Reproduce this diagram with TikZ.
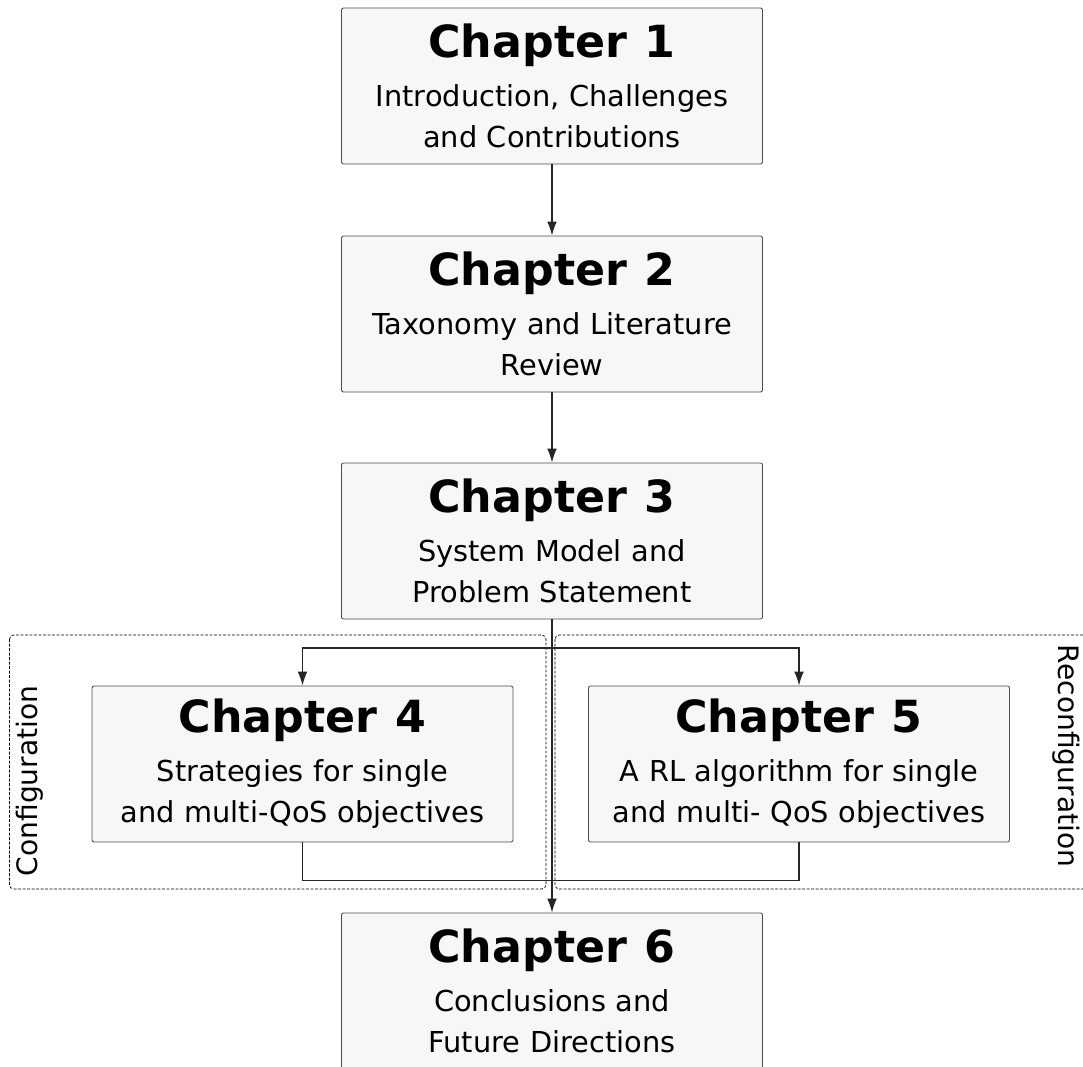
\documentclass[tikz,border=0pt]{standalone}
\usepackage{fontspec}
\setmainfont{DejaVu Sans}
\usetikzlibrary{arrows.meta}

\tikzset{
  chapter/.style={draw=black!70, line width=0.6pt, fill=black!3, rounded corners=1.5pt,
    minimum width=10.525cm, minimum height=3.9cm, inner sep=0pt, text width=10.4cm,
    align=center, font=\fontsize{20.5}{29.5}\selectfont},
  group/.style={draw=black, dash pattern=on 2pt off 1.2pt, line width=0.5pt, rounded corners=3pt},
  grouplabel/.style={font=\fontsize{20}{23}\selectfont, inner sep=0pt},
  link/.style={draw=black!85, line width=1pt},
  arrow/.style={link, -{Latex[length=10pt,width=7pt]}}
}
\newcommand{\chaptitle}[1]{{\fontsize{31.5}{31.5}\selectfont\bfseries Chapter\hspace{0.4em}#1}\\[5pt]}

\begin{document}
\begin{tikzpicture}[x=0.025cm, y=-0.025cm]
\useasboundingbox (0,0) rectangle (1083,1066);

% Draw the two groups
\draw[group] (9.5,635) rectangle (546,889);
\draw[group] (555,635) rectangle (1092,889);
\node[grouplabel, rotate=90] (conf) at (30,781) {Configuration};
\node[grouplabel, rotate=-90] (reconf) at (1066,756) {Reconfiguration};

% Draw the chapters
\node[chapter] (ch1) at (552,86) {\chaptitle{1}Introduction, Challenges\\ and Contributions};
\node[chapter] (ch2) at (552,314) {\chaptitle{2}Taxonomy and Literature\\ Review};
\node[chapter] (ch3) at (552,541) {\chaptitle{3}System Model and\\ Problem Statement};
\node[chapter] (ch4) at (302.5,764) {\chaptitle{4}Strategies for single\\ and multi-QoS objectives};
\node[chapter] (ch5) at (799,764) {\chaptitle{5}A RL algorithm for single\\ and multi- QoS objectives};
\node[chapter] (ch6) at (552,991) {\chaptitle{6}Conclusions and\\ Future Directions};

% Draw links between chapters
\draw[arrow] (ch1) -- (ch2);
\draw[arrow] (ch2) -- (ch3);
\draw[arrow] (ch3) -- (ch6);

% Split after chapter 3, join before chapter 6
\coordinate (split) at (552,648);
\draw[arrow] (split) -| (ch4);
\draw[arrow] (split) -| (ch5);
\draw[link] (ch4.south) -- ++(0,38) -| (ch5.south);

\end{tikzpicture}
\end{document}
